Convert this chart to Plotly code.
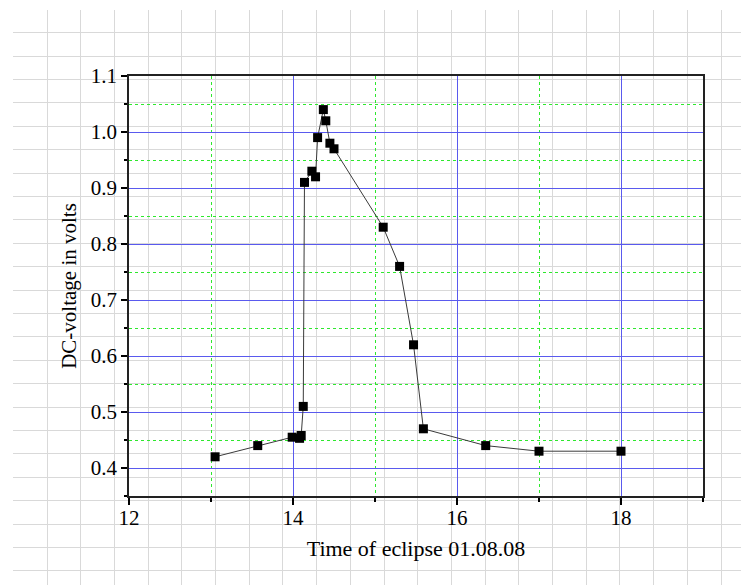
import plotly.graph_objects as go

# ---- data ----
time_h = [13.05, 13.57, 13.99, 14.08, 14.10, 14.125, 14.14, 14.23, 14.275, 14.30,
          14.37, 14.40, 14.45, 14.50, 15.10, 15.30, 15.47, 15.59, 16.35, 17.0, 18.0]
voltage = [0.42, 0.44, 0.455, 0.453, 0.458, 0.51, 0.91, 0.93, 0.92, 0.99,
           1.04, 1.02, 0.98, 0.97, 0.83, 0.76, 0.62, 0.47, 0.44, 0.43, 0.43]
x_ticks = [12, 14, 16, 18]
y_ticks = [0.4, 0.5, 0.6, 0.7, 0.8, 0.9, 1.0, 1.1]
y_ticktext = ["0.4", "0.5", "0.6", "0.7", "0.8", "0.9", "1.0", "1.1"]
x_title = "Time of eclipse 01.08.08"
y_title = "DC-voltage in volts"

W, H = 741, 585
FONT = "Liberation Serif"
BLUE = "#5a5aee"
GREEN = "#2ee82e"
PAPERGRID = "#d9d9d9"

fig = go.Figure()

# background "graph paper" subplot (pixel units of the page)
fig.add_trace(go.Scatter(x=[], y=[], xaxis="x", yaxis="y",
                         showlegend=False, hoverinfo="skip"))

# data
fig.add_trace(go.Scatter(
    x=time_h, y=voltage, xaxis="x2", yaxis="y2",
    mode="lines+markers",
    line=dict(color="#3a3a3a", width=1),
    marker=dict(symbol="square", size=9, color="black"),
    showlegend=False,
))

fig.update_layout(
    width=W, height=H,
    margin=dict(l=0, r=0, t=0, b=0, pad=0, autoexpand=False),
    paper_bgcolor="white",
    plot_bgcolor="rgba(0,0,0,0)",
    font=dict(family=FONT, size=21, color="black"),
    xaxis=dict(
        domain=[13.3 / W, 1], range=[13.3, W], anchor="y", automargin=False,
        tick0=13.3, dtick=33.7, showgrid=True, gridcolor=PAPERGRID, gridwidth=1.3,
        showticklabels=False, ticks="", zeroline=False, showline=False, fixedrange=True,
    ),
    yaxis=dict(
        domain=[0, 1 - 10 / H], range=[H, 10], anchor="x", automargin=False,
        tick0=32.7, dtick=23.4, showgrid=True, gridcolor=PAPERGRID, gridwidth=1.3,
        showticklabels=False, ticks="", zeroline=False, showline=False, fixedrange=True,
    ),
    xaxis2=dict(
        domain=[129 / W, 703 / W], anchor="y2", range=[12, 19], automargin=False,
        tickmode="array", tickvals=x_ticks,
        ticks="outside", ticklen=7, tickwidth=1.5, tickcolor="black",
        ticklabelstandoff=-5,
        showgrid=True, gridcolor=BLUE, gridwidth=1,
        minor=dict(tickmode="linear", tick0=13, dtick=1, ticks="outside", ticklen=4,
                   tickwidth=1.5, tickcolor="black",
                   showgrid=True, gridcolor=GREEN, gridwidth=1, griddash="dot"),
        showline=True, linecolor="#222222", linewidth=1.5, mirror=True,
        zeroline=False,
        title=dict(text=x_title, standoff=12, font=dict(family=FONT, size=22, color="black")),
        tickfont=dict(family=FONT, size=21, color="black"),
    ),
    yaxis2=dict(
        domain=[1 - 496 / H, 1 - 76 / H], anchor="x2", range=[0.35, 1.1], automargin=False,
        tickmode="array", tickvals=y_ticks, ticktext=y_ticktext,
        ticks="outside", ticklen=6, tickwidth=1.5, tickcolor="black",
        showgrid=True, gridcolor=BLUE, gridwidth=1,
        minor=dict(tickmode="linear", tick0=0.35, dtick=0.05, ticks="outside", ticklen=3,
                   tickwidth=1.5, tickcolor="black",
                   showgrid=True, gridcolor=GREEN, gridwidth=1, griddash="dot"),
        showline=True, linecolor="#222222", linewidth=1.5, mirror=True,
        zeroline=False,
        title=dict(text=y_title, standoff=8, font=dict(family=FONT, size=21, color="black")),
        tickfont=dict(family=FONT, size=21, color="black"),
    ),
)

fig.write_html(
    "out.html",
    config={"displayModeBar": False},
    post_script="document.body.style.margin='0';document.body.style.overflow='hidden';",
)
